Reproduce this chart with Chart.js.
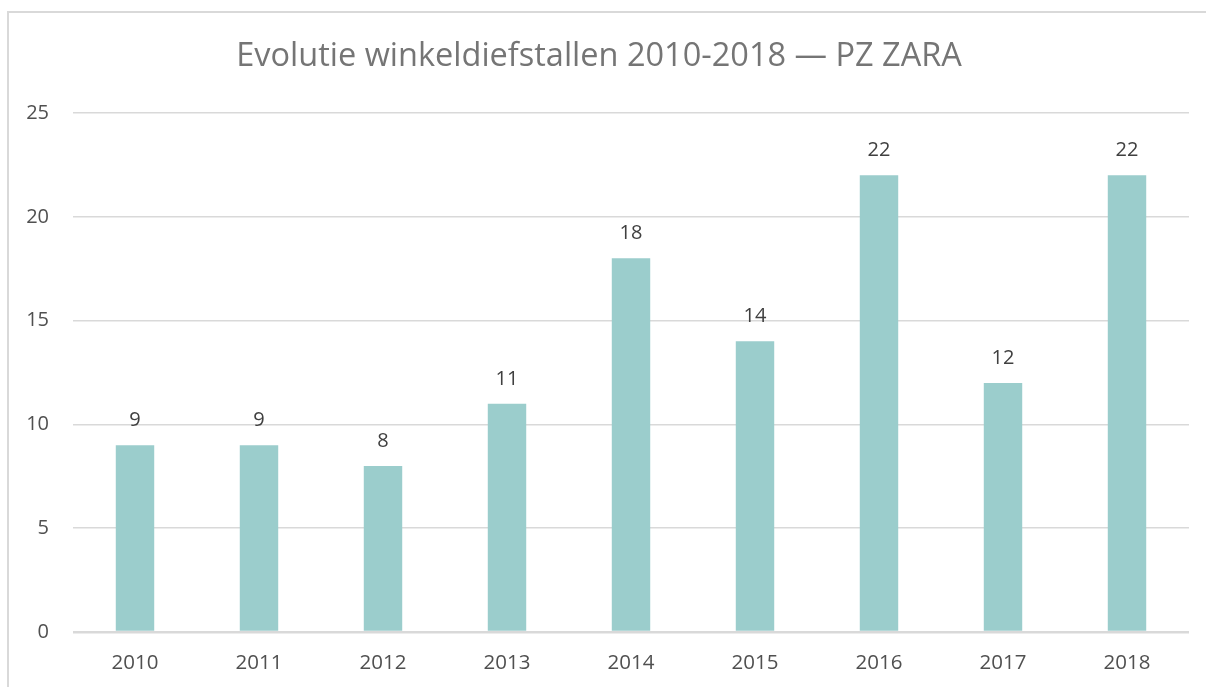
<!DOCTYPE html>
<html>
<head>
<meta charset="utf-8">
<title>Evolutie winkeldiefstallen</title>
<script src="https://cdn.jsdelivr.net/npm/chart.js@4/dist/chart.umd.min.js"></script>
<style>
    html, body {
        margin: 0;
        padding: 0;
        width: 1206px;
        height: 687px;
        overflow: hidden;
        background: #ffffff;
    }
    #frame {
        position: absolute;
        left: 7px;
        top: 11px;
        width: 1209px;
        height: 690px;
        border: 2px solid #d9d9d9;
    }
    #chartBox {
        position: absolute;
        left: 0;
        top: 0;
        width: 1209px;
        height: 690px;
    }
</style>
</head>
<body>
<div id="frame">
    <div id="chartBox"><canvas id="theftChart"></canvas></div>
</div>
<script>
// Chart data
const years = ['2010', '2011', '2012', '2013', '2014', '2015', '2016', '2017', '2018'];
const thefts = [9, 9, 8, 11, 18, 14, 22, 12, 22];
const yTicks = [0, 5, 10, 15, 20, 25];

const chartTitle = 'Evolutie winkeldiefstallen 2010-2018 \u2014 PZ ZARA';

// Draws the value above each bar
const valueLabels = {
    id: 'valueLabels',
    afterDatasetsDraw(chart) {
        const ctx = chart.ctx;
        const meta = chart.getDatasetMeta(0);
        ctx.save();
        ctx.font = '20px "Open Sans"';
        ctx.fillStyle = '#404040';
        ctx.textAlign = 'center';
        ctx.textBaseline = 'alphabetic';
        meta.data.forEach(function(bar, i) {
            ctx.fillText(String(chart.data.datasets[0].data[i]), bar.x, bar.y - 19);
        });
        ctx.restore();
    }
};

document.addEventListener('DOMContentLoaded', function() {
    const ctx = document.getElementById('theftChart').getContext('2d');

    new Chart(ctx, {
        type: 'bar',
        data: {
            labels: years,
            datasets: [{
                label: 'Winkeldiefstallen',
                data: thefts,
                backgroundColor: '#9bcdcc',
                borderWidth: 0,
                categoryPercentage: 1,
                barPercentage: 0.31
            }]
        },
        options: {
            responsive: true,
            maintainAspectRatio: false,
            animation: false,
            layout: {
                padding: { left: 0, right: 29, top: 0, bottom: 0 }
            },
            scales: {
                x: {
                    grid: { display: false, drawTicks: false },
                    border: { display: false },
                    ticks: {
                        color: '#505050',
                        font: { family: 'Open Sans', size: 20.5 },
                        padding: 19,
                        maxRotation: 0
                    },
                    afterFit: function(scale) { scale.height = 71; }
                },
                y: {
                    min: 0,
                    max: 25,
                    afterBuildTicks: function(scale) {
                        scale.ticks = yTicks.map(v => ({ value: v }));
                    },
                    grid: {
                        color: '#d9d9d9',
                        lineWidth: c => c.tick && c.tick.value === 0 ? 2.5 : 1.5,
                        drawTicks: false
                    },
                    border: { display: false },
                    ticks: {
                        color: '#505050',
                        font: { family: 'Open Sans', size: 20 },
                        padding: 24
                    },
                    afterFit: function(scale) { scale.width = 64; }
                }
            },
            plugins: {
                legend: { display: false },
                tooltip: { enabled: false },
                title: {
                    display: true,
                    text: chartTitle,
                    color: '#757575',
                    font: { family: 'Open Sans', size: 32.5, weight: 'normal' },
                    padding: { top: 24.5, bottom: 36.5 }
                }
            }
        },
        plugins: [valueLabels]
    });
});
</script>
</body>
</html>
